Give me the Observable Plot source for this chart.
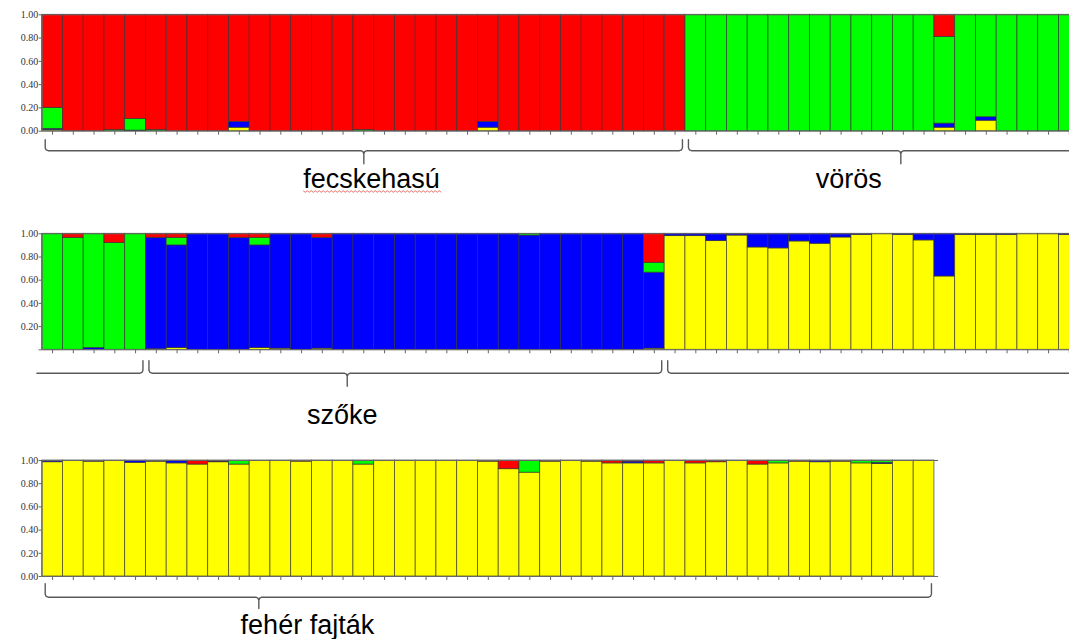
<!DOCTYPE html>
<html><head><meta charset="utf-8">
<script src="https://cdn.jsdelivr.net/npm/d3@7"></script>
<script src="https://cdn.jsdelivr.net/npm/@observablehq/plot@0.6"></script>
<style>
html,body{margin:0;padding:0;background:#fff;}
body{width:1069px;height:639px;overflow:hidden;position:relative;}
.row{position:absolute;left:0;width:1069px;}
.row svg{overflow:hidden;}
</style></head><body>
<div id="r1" class="row" style="top:0px"></div>
<div id="r2" class="row" style="top:205px"></div>
<div id="r3" class="row" style="top:440px"></div>
<script>
// ---------------- DATA ----------------
const clusters = ["Y", "B", "G", "R"]; // stacked bottom → top
const clusterColors = ["#ffff00", "#0000ff", "#00ff00", "#ff0000"];
const yTicks = [0, 0.2, 0.4, 0.6, 0.8, 1.0];

// Row 1 (fecskehasú, vörös) – 50 individuals
const row1Yellow = [0.01,0,0,0,0,0,0,0,0,0.03, 0,0,0,0,0,0,0,0,0,0, 0,0.03,0,0,0,0,0,0,0,0, 0,0,0,0,0,0,0,0,0,0, 0,0,0,0.03,0,0.09,0,0,0,0];
const row1Blue   = [0.01,0,0,0,0.005,0,0,0,0,0.05, 0,0,0,0,0,0,0,0,0,0, 0,0.05,0,0,0,0,0,0,0,0, 0,0,0,0,0,0,0,0,0,0, 0,0,0,0.035,0,0.03,0,0,0,0];
const row1Green  = [0.18,0,0,0.01,0.10,0.01,0,0,0,0, 0,0,0,0,0,0.01,0,0,0,0, 0,0,0,0,0,0,0,0,0,0, 0,1,1,1,1,1,1,1,1,1, 1,1,1,0.745,1,0.88,1,1,1,1];
const row1Red    = [0.80,1,1,0.99,0.895,0.99,1,1,1,0.92, 1,1,1,1,1,0.99,1,1,1,1, 1,0.92,1,1,1,1,1,1,1,1, 1,0,0,0,0,0,0,0,0,0, 0,0,0,0.19,0,0,0,0,0,0];

// Row 2 (szőke) – 50 individuals
const row2Yellow = [0,0,0,0,0, 0.005,0.015,0,0,0, 0.015,0.01,0,0.01,0, 0,0,0,0,0, 0,0,0,0,0, 0,0,0,0,0.01, 0.98,0.98,0.937,0.985,0.882, 0.874,0.934,0.914,0.968,0.99, 1,0.99,0.943,0.632,0.99, 0.99,0.99,1,1,0.99];
const row2Blue   = [0,0,0.015,0,0, 0.96,0.885,1,1,0.965, 0.885,0.99,1,0.955,1, 1,1,1,1,1, 1,1,1,0.985,1, 1,1,1,1,0.655, 0.02,0.02,0.063,0.015,0.118, 0.126,0.066,0.086,0.032,0.01, 0,0.01,0.057,0.368,0.01, 0.01,0.01,0,0,0.01];
const row2Green  = [1,0.965,0.985,0.92,1, 0,0.065,0,0,0, 0.065,0,0,0,0, 0,0,0,0,0, 0,0,0,0.015,0, 0,0,0,0,0.085, 0,0,0,0,0, 0,0,0,0,0, 0,0,0,0,0, 0,0,0,0,0];
const row2Red    = [0,0.035,0,0.08,0, 0.035,0.035,0,0,0.035, 0.035,0,0,0.035,0, 0,0,0,0,0, 0,0,0,0,0, 0,0,0,0,0.25, 0,0,0,0,0, 0,0,0,0,0, 0,0,0,0,0, 0,0,0,0,0];

// Row 3 (fehér fajták) – 43 individuals
const row3Yellow = [0.985,1,0.99,1,0.98, 0.99,0.975,0.965,0.985,0.965, 1,1,0.99,1,1, 0.965,1,1,1,1, 1,0.99,0.925,0.895,0.99, 1,0.99,0.975,0.975,0.975, 1,0.975,0.985,1,0.965, 0.975,0.99,0.985,0.99,0.975, 0.97,1,1];
const row3Blue   = [0.01,0,0.01,0,0.02, 0.01,0.025,0,0.005,0, 0,0,0,0,0, 0,0,0,0,0, 0,0,0,0,0, 0,0,0,0.015,0, 0,0,0,0,0, 0,0,0.015,0,0, 0.01,0,0];
const row3Green  = [0,0,0,0,0, 0,0,0,0,0.035, 0,0,0,0,0, 0.035,0,0,0,0, 0,0,0,0.105,0, 0,0,0,0,0, 0,0,0,0,0, 0.025,0,0,0,0.025, 0.02,0,0];
const row3Red    = [0.005,0,0,0,0, 0,0,0.035,0.01,0, 0,0,0.01,0,0, 0,0,0,0,0, 0,0.01,0.075,0,0.01, 0,0.01,0.025,0.01,0.025, 0,0.025,0.015,0,0.035, 0,0.01,0,0.01,0, 0,0,0];

// Group brackets (individual index boundaries) and their labels
const row1Groups = [{from: 0, to: 31, tip: 15.5, hookL: true, hookR: true}, {from: 31, to: 52, tip: 41.38, hookL: true, hookR: true}];
const row1Labels = [{text: "fecskehasú", at: 15.87}, {text: "vörös", at: 38.87}];
const row2Groups = [{from: -0.4, to: 5, tip: null, hookL: false, hookR: true}, {from: 5, to: 30, tip: 14.7, hookL: true, hookR: true}, {from: 30, to: 55, tip: null, hookL: true, hookR: false}];
const row2Labels = [{text: "szőke", at: 14.46}];
const row3Groups = [{from: 0, to: 43, tip: 10.44, hookL: true, hookR: true}];
const row3Labels = [{text: "fehér fajták", at: 12.78}];

// ---------------- LAYOUT ----------------
const W = 1069, ML = 41.7, BW = 20.75;
const XMAX = (W - ML) / BW;

function buildRow(yel, blu, gre, red) {
  const out = [];
  yel.forEach((_, i) => {
    let base = 0;
    [[yel[i], "Y"], [blu[i], "B"], [gre[i], "G"], [red[i], "R"]].forEach(([v, c]) => {
      if (v > 0) out.push({i, i2: i + 1, y1: base, y2: base + v, cluster: c});
      base += v;
    });
  });
  return out;
}

function bracePoints(b, lay, H, id) {
  const dx = p => p / BW, dy = p => -p / H;
  const s = b.from + dx(3), e = b.to - dx(3);
  const L = lay.line, T = lay.line - lay.hook, D = lay.line + lay.tip, r = 3;
  const pts = [];
  if (b.hookL) pts.push([s, T], [s, L - r], [s + dx(r * 0.3), L - r * 0.3], [s + dx(r), L]);
  else pts.push([s, L]);
  if (b.tip != null) {
    const t = b.tip;
    pts.push([t - dx(r), L], [t - dx(r * 0.3), L + r * 0.3], [t, L + r], [t, D], [t, L + r], [t + dx(r * 0.3), L + r * 0.3], [t + dx(r), L]);
  }
  if (b.hookR) pts.push([e - dx(r), L], [e - dx(r * 0.3), L - r * 0.3], [e, L - r], [e, T]);
  else pts.push([e, L]);
  return pts.map(([x, py]) => ({x, y: dy(py), id}));
}

function makeRow(opt) {
  const {yel, blu, gre, red, groups, labels, height, mt, mb, lay, showZero, nBars} = opt;
  const H = height - mt - mb;
  const data = buildRow(yel, blu, gre, red);
  const centers = d3.range(yel.length).map(i => i + 0.5);
  const braces = groups.flatMap((g, k) => bracePoints(g, lay, H, k));
  const fmt = d3.format(".2f");
  const lbls = labels.map(l => ({...l, y: -(lay.label - 0.32 * 27) / H}));
  return Plot.plot({
    width: W, height, marginLeft: ML, marginRight: 0, marginTop: mt, marginBottom: mb,
    x: {domain: [0, XMAX], axis: null},
    y: {domain: [0, 1], axis: null},
    color: {domain: clusters, range: clusterColors},
    style: {fontFamily: "'Liberation Serif', serif", fontSize: "10px", color: "#333", background: "transparent"},
    marks: [
      Plot.rect(data, {x1: "i", x2: "i2", y1: "y1", y2: "y2", fill: "cluster", stroke: "#333", strokeWidth: 0.8, strokeOpacity: 0.8}),
      Plot.ruleY([0, 1], {x1: 0, x2: nBars, stroke: "#666", strokeWidth: 1}),
      Plot.ruleX([0], {y1: 0, y2: 1, stroke: "#666"}),
      Plot.axisY({ticks: yTicks, tickFormat: d => (d === 0 && !showZero) ? "" : fmt(d), tickSize: 3, tickPadding: 1, stroke: "#666", fill: "#333", fontSize: 10}),
      Plot.axisX({ticks: centers, tickFormat: () => "", tickSize: 4, stroke: "#666"}),
      Plot.line(braces, {x: "x", y: "y", z: "id", stroke: "#5a5a5a", strokeWidth: 1.4, curve: "linear"}),
      Plot.text(lbls, {x: "at", y: "y", text: "text", fontSize: 27, fontFamily: "'Liberation Sans', Arial, sans-serif", fill: "#000", textAnchor: "middle"})
    ]
  });
}

const p1 = makeRow({yel: row1Yellow, blu: row1Blue, gre: row1Green, red: row1Red, groups: row1Groups, labels: row1Labels,
  height: 205, mt: 14.3, mb: 74.3, lay: {line: 19.5, hook: 11, tip: 13, label: 56.5}, showZero: true, nBars: XMAX});
const p2 = makeRow({yel: row2Yellow, blu: row2Blue, gre: row2Green, red: row2Red, groups: row2Groups, labels: row2Labels,
  height: 235, mt: 28.3, mb: 90.7, lay: {line: 23.4, hook: 12.5, tip: 13, label: 74}, showZero: false, nBars: XMAX});
const p3 = makeRow({yel: row3Yellow, blu: row3Blue, gre: row3Green, red: row3Red, groups: row3Groups, labels: row3Labels,
  height: 199, mt: 20, mb: 63, lay: {line: 20.7, hook: 13.5, tip: 11.3, label: 57}, showZero: true, nBars: 43.2});

document.getElementById("r1").appendChild(p1);
document.getElementById("r2").appendChild(p2);
document.getElementById("r3").appendChild(p3);

// spell-check style wavy red underline under the first label
const t1 = d3.select(p1).selectAll("text").filter(function() { return this.textContent === "fecskehasú"; }).node();
if (t1) {
  const bb = t1.getBBox();
  const ctm = t1.getCTM ? t1.getCTM() : null;
  const x0 = bb.x + (ctm ? ctm.e : 0), x1 = x0 + bb.width;
  const yb = bb.y + (ctm ? ctm.f : 0) + bb.height - 3;
  let d = `M${x0},${yb}`;
  for (let x = x0, k = 0; x < x1; x += 2, k++) d += `L${x + 2},${yb + (k % 2 ? 0 : 1.6)}`;
  d3.select(p1).append("path").attr("d", d).attr("fill", "none").attr("stroke", "#e0504a").attr("stroke-width", 0.8);
}
</script>
</body></html>
